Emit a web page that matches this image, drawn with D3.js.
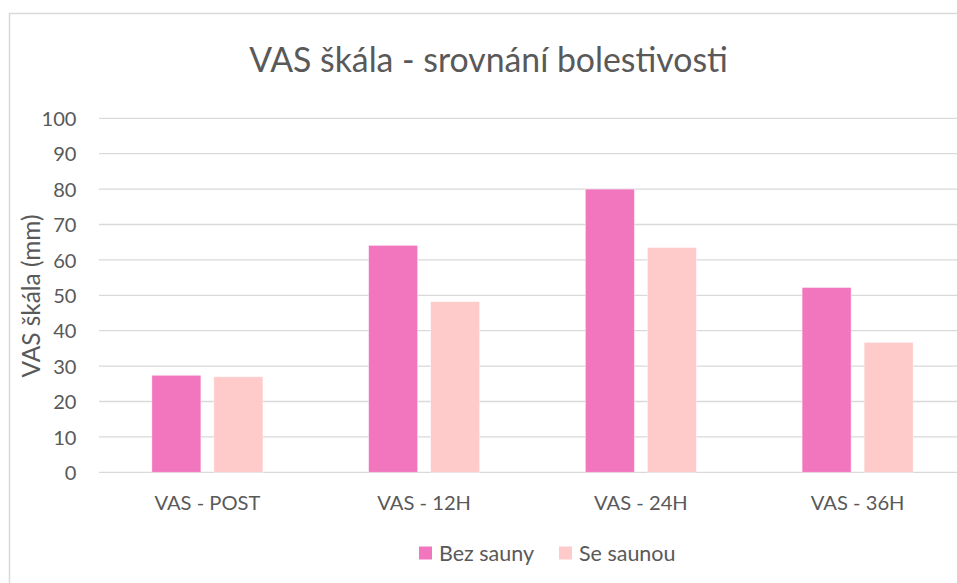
<!DOCTYPE html>
<html><head><meta charset="utf-8">
<script src="https://cdn.jsdelivr.net/npm/d3@7"></script>
<style>html,body{margin:0;padding:0;background:#fff;overflow:hidden}</style>
</head><body>
<svg id="c" width="957" height="583"></svg>
<script>
const categories = ["VAS - POST", "VAS - 12H", "VAS - 24H", "VAS - 36H"];
const seriesNames = ["Bez sauny", "Se saunou"];
const bezSauny = [27.4, 64.1, 80.0, 52.2];
const seSaunou = [27.0, 48.2, 63.5, 36.7];
const yTicks = [0, 10, 20, 30, 40, 50, 60, 70, 80, 90, 100];
const colors = ["#F176BD", "#FECACA"];
const title = "VAS škála - srovnání bolestivosti";
const yLabel = "VAS škála (mm)";

const font = "Lato, 'Open Sans', sans-serif";
const textColor = "#595959";
const svg = d3.select("#c");

// scale a text selection's font size so the first element matches a target width
function fit(sel, targetWidth) {
  const n = sel.node();
  const fs = parseFloat(n.getAttribute("font-size"));
  const w = n.getComputedTextLength();
  sel.attr("font-size", fs * targetWidth / w);
}

// chart border (cropped on right/bottom)
svg.append("path").attr("d", "M9.5,583 V13.5 H957").attr("fill", "none")
  .attr("stroke", "#d9d9d9").attr("stroke-width", 1.5);

const plot = {left: 99, right: 966, top: 118.3, bottom: 472.3};
const x = d3.scaleBand().domain(categories).range([plot.left, plot.right]);
const y = d3.scaleLinear().domain([0, 100]).range([plot.bottom, plot.top]);
const x1 = d3.scaleBand().domain(seriesNames).range([0, 111]).paddingInner(0.21);

// gridlines
svg.append("g").selectAll("line").data(yTicks).join("line")
  .attr("x1", plot.left).attr("x2", plot.right)
  .attr("y1", d => y(d)).attr("y2", d => y(d))
  .attr("stroke", "#d9d9d9").attr("stroke-width", 1.3);

// y axis
const yAxis = d3.axisLeft(y).tickValues(yTicks).tickSize(0).tickPadding(0);
const yg = svg.append("g").attr("transform", `translate(76.5,0)`).call(yAxis);
yg.select(".domain").remove();
const yt = yg.selectAll("text").attr("font-family", font).attr("font-size", 18).attr("fill", textColor).attr("dy", "0.36em");
fit(yg.selectAll("text").filter(d => d === 100), 35);
yt.attr("font-size", yg.selectAll("text").filter(d => d === 100).attr("font-size"));

// bars
const data = categories.map((c, i) => ({c, vals: [bezSauny[i], seSaunou[i]]}));
const groups = svg.append("g").selectAll("g").data(data).join("g")
  .attr("transform", d => `translate(${x(d.c) + x.bandwidth()/2 - 55.5},0)`);
groups.selectAll("rect").data(d => d.vals.map((v, j) => ({v, s: seriesNames[j], j})))
  .join("rect")
  .attr("x", d => x1(d.s)).attr("width", x1.bandwidth())
  .attr("y", d => y(d.v)).attr("height", d => y(0) - y(d.v))
  .attr("fill", d => colors[d.j]).attr("stroke", "#fff").attr("stroke-opacity", 0.5).attr("stroke-width", 0.8);

// x axis labels
const xAxis = d3.axisBottom(x).tickSize(0).tickPadding(0);
const xg = svg.append("g").attr("transform", `translate(0,503)`).call(xAxis);
xg.select(".domain").remove();
const xt = xg.selectAll("text").attr("font-family", font).attr("font-size", 18).attr("fill", textColor).attr("dy", "0.36em");
fit(d3.select(xt.nodes()[0]), 106);
xt.attr("font-size", d3.select(xt.nodes()[0]).attr("font-size"));

// title
const tt = svg.append("text").attr("x", 488.5).attr("y", 60).attr("text-anchor", "middle").attr("dy", "0.36em")
  .attr("font-family", font).attr("font-size", 29).attr("fill", textColor).text(title);
fit(tt, 479);

// y label
const yl = svg.append("text").attr("transform", "translate(31,296) rotate(-90)").attr("text-anchor", "middle").attr("dy", "0.36em")
  .attr("font-family", font).attr("font-size", 20).attr("fill", textColor).text(yLabel);
fit(yl, 163);

// legend
const legendX = [419, 559];
const lg = svg.append("g").selectAll("g").data(seriesNames).join("g")
  .attr("transform", (d, i) => `translate(${legendX[i]},553)`);
lg.append("rect").attr("x", 0).attr("y", -6.5).attr("width", 13).attr("height", 13).attr("fill", (d, i) => colors[i]);
const lt = lg.append("text").attr("x", 20).attr("y", 0).attr("dy", "0.36em")
  .attr("font-family", font).attr("font-size", 18).attr("fill", textColor).text(d => d);
fit(d3.select(lt.nodes()[0]), 95);
lt.attr("font-size", d3.select(lt.nodes()[0]).attr("font-size"));
</script>
</body></html>
